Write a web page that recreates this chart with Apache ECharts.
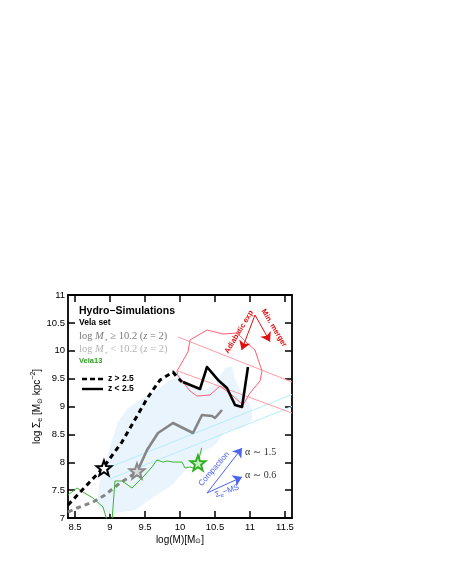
<!DOCTYPE html>
<html><head><meta charset="utf-8">
<script src="https://cdn.jsdelivr.net/npm/echarts@6/dist/echarts.min.js"></script>
<style>html,body{margin:0;padding:0;background:#fff}#c{width:452px;height:585px}</style>
</head><body><div id="c"></div>
<script>
// ---- tick values ----
const xTicks = [8.5, 9, 9.5, 10, 10.5, 11, 11.5];
const yTicks = [7, 7.5, 8, 8.5, 9, 9.5, 10, 10.5, 11];

// ---- series (log M, log Sigma_e) ----
const blackDashed = [[8.4,7.233],[8.9,7.897],[9.171,8.363],[9.543,9.170],[9.714,9.475],[9.9,9.619],[9.957,9.529],[10.029,9.44]];
const blackSolid  = [[10.043,9.44],[10.286,9.314],[10.386,9.709],[10.543,9.476],[10.671,9.332],[10.786,9.027],[10.886,8.991],[10.971,9.709]];
const greyDashed  = [[8.4,7.107],[8.529,7.179],[8.757,7.287],[8.929,7.413],[9.143,7.628],[9.386,7.825]];
const greySolid   = [[9.386,7.825],[9.529,8.22],[9.686,8.525],[9.9,8.704],[10.186,8.525],[10.314,8.847],[10.457,8.83],[10.5,8.794],[10.6,8.937]];
const greenVela13 = [[8.4,7.413],[8.529,7.538],[8.614,7.466],[8.757,7.359],[8.9,7.197],[8.957,6.96],[9.029,6.96],[9.071,7.664],[9.171,7.664],[9.314,7.538],[9.471,7.735],[9.6,7.915],[9.671,8.04],[9.757,8.004],[9.814,8.022],[9.9,8.004],[10.029,8.004],[10.071,7.897],[10.143,7.915],[10.186,7.897],[10.257,7.987],[10.31,8.26]];
const starBlack = [[8.914,7.897]];
const starGrey  = [[9.386,7.843]];
const starGreen = [[10.257,7.987]];

// ---- shaded distribution and reference lines ----
const blueRegion = [[9.429,9.117],[9.671,9.296],[9.857,9.475],[10.0,9.529],[10.143,9.386],[10.357,9.296],[10.5,9.386],[10.643,9.691],[10.743,9.726],[10.771,9.547],[10.857,9.296],[10.971,9.117],[11.029,8.937],[11.029,8.758],[10.886,8.614],[10.643,8.543],[10.5,8.309],[10.314,8.166],[10.214,8.004],[10.071,7.861],[9.886,7.592],[9.6,7.359],[9.357,7.143],[9.0,7.072],[8.829,7.197],[8.829,7.413],[8.857,7.682],[8.929,8.004],[9.029,8.399],[9.114,8.722],[9.257,8.973]];
const redPolygon = [[9.957,9.637],[10.114,9.978],[10.143,10.193],[10.386,10.372],[10.614,10.30],[10.814,10.318],[10.957,10.139],[11.071,10.013],[11.171,9.637],[11.143,9.457],[11.0,9.242],[10.9,9.027],[10.743,9.206],[10.571,9.368],[10.429,9.206],[10.243,9.188],[10.143,9.278],[9.971,9.547]];
const pinkLine1 = [[9.971,10.247],[11.6,9.439]];
const pinkLine2 = [[9.971,9.637],[11.6,8.883]];
const cyanLine1 = [[9.0,7.915],[11.6,9.215]];
const cyanLine2 = [[9.0,7.70],[11.6,9.0]];
const redArrowOrigin = [11.071,10.641];
const redArrowAdiabatic = [10.881,10.013];
const redArrowMerger = [11.286,10.163];
const blueArrowOrigin = [10.386,7.448];
const blueArrowCompaction = [10.886,8.256];
const blueArrowMS = [10.886,7.735];

function starPath(){
  const p=[];
  for(let k=0;k<10;k++){const r=k%2?0.42:1;const a=-Math.PI/2+k*Math.PI/5;p.push((r*Math.cos(a)).toFixed(3)+' '+(r*Math.sin(a)).toFixed(3));}
  return 'path://M'+p.join(' L')+' Z';
}
const STAR = starPath();
const SANS = "'Liberation Sans', Arial, Helvetica, sans-serif";
const SERIF = "'Liberation Serif', 'DejaVu Serif', serif";

const chart = echarts.init(document.getElementById('c'), null, {renderer:'canvas'});

function lineS(data, color, width, type, z){
  return {type:'line', data, symbol:'none', showSymbol:false, clip:true, z:z||5, silent:true,
    lineStyle:{color, width, type:type||'solid', cap:'butt', join:'round'}};
}
function polyS(points, style, z){
  return {type:'custom', data:[[9,9]], z, silent:true, clip:true,
    renderItem:(params, api)=>({type:'polygon', shape:{points: points.map(p=>api.coord(p))}, style})};
}
function starS(data, stroke, fill){
  return {type:'scatter', data, symbol:STAR, symbolSize:15, z:10, silent:true,
    itemStyle:{color:fill, borderColor:stroke, borderWidth:2, opacity:1}};
}
function arrowS(origin, ends, color){
  return {type:'lines', coordinateSystem:'cartesian2d', polyline:false, z:9, silent:true,
    symbol:['none','arrow'], symbolSize:[0,9],
    lineStyle:{color, width:1, opacity:1, curveness:0},
    data: ends.map(e=>({coords:[origin, e]}))};
}

const axisCommon = {
  type:'value', min:8.4, max:11.6,
  axisLine:{show:true, onZero:false, lineStyle:{color:'#000', width:1.8}},
  axisTick:{show:true, inside:true, length:7, customValues:xTicks, lineStyle:{color:'#000', width:1.5}},
  splitLine:{show:false}
};
const yCommon = {
  type:'value', min:7, max:11,
  axisLine:{show:true, onZero:false, lineStyle:{color:'#000', width:1.8}},
  axisTick:{show:true, inside:true, length:7, customValues:yTicks, lineStyle:{color:'#000', width:1.5}},
  splitLine:{show:false}
};

chart.setOption({
  animation:false,
  backgroundColor:'#fff',
  grid:{left:68, top:295, width:224, height:223, containLabel:false},
  xAxis:[
    Object.assign({}, axisCommon, {position:'bottom',
      axisLabel:{show:true, customValues:xTicks, color:'#000', fontSize:9.5, fontFamily:SANS, margin:4},
      name:'log(M)[M{s|⊙}]', nameLocation:'middle', nameGap:17,
      nameTextStyle:{color:'#000', fontSize:10, fontFamily:SANS, rich:{s:{fontSize:6.5, fontFamily:SANS, verticalAlign:'bottom', lineHeight:6, padding:[5,0,0,0]}}}}),
    Object.assign({}, axisCommon, {position:'top', axisLabel:{show:false}})
  ],
  yAxis:[
    Object.assign({}, yCommon, {position:'left',
      axisLabel:{show:true, customValues:yTicks, color:'#000', fontSize:9.5, fontFamily:SANS, margin:3}}),
    Object.assign({}, yCommon, {position:'right', axisLabel:{show:false}})
  ],
  series:[
    polyS(blueRegion, {fill:'#e9f4fd', stroke:'none'}, 1),
    lineS(cyanLine1, '#b6eef8', 1, 'solid', 2),
    lineS(cyanLine2, '#b6eef8', 1, 'solid', 2),
    lineS(pinkLine1, '#ff9aa8', 1, 'solid', 2),
    lineS(pinkLine2, '#ff9aa8', 1, 'solid', 2),
    polyS(redPolygon, {fill:'none', stroke:'#ff6075', lineWidth:1}, 3),
    lineS(greenVela13, '#3cb531', 1, 'solid', 6),
    lineS(greyDashed, '#858585', 3, [5,4], 6),
    lineS(greySolid, '#858585', 2.6, 'solid', 6),
    lineS(blackDashed, '#000', 3, [5,4], 7),
    lineS(blackSolid, '#000', 2.6, 'solid', 7),
    starS(starBlack, '#000', '#fff'),
    starS(starGrey, '#8a8a8a', '#d8d8d8'),
    starS(starGreen, '#2fae22', '#c9f0c0'),
    arrowS(redArrowOrigin, [redArrowAdiabatic, redArrowMerger], '#e01010'),
    arrowS(blueArrowOrigin, [blueArrowCompaction, blueArrowMS], '#4a62f0')
  ]
});

function px(p){ return chart.convertToPixel({gridIndex:0}, p); }
const deg = Math.PI/180;
const tAdia = px([10.843,10.336]), tMerg = px([11.343,10.408]);
const tComp = px([10.486,7.879]), tMS = px([10.671,7.484]);
const tA15 = px([10.929,8.184]), tA06 = px([10.929,7.771]);

chart.setOption({graphic:[
  {type:'text', left:79, top:306, style:{text:'Hydro−Simulations', font:'bold 10.5px '+SANS, fill:'#000'}},
  {type:'text', left:79, top:318, style:{text:'Vela set', font:'bold 8.5px '+SANS, fill:'#000'}},
  {type:'text', left:79, top:331, style:{text:'{r|log }{i|M}{s|⋆}{r| ≥ 10.2 (}{i|z}{r| = 2)}', rich:{
      r:{fontSize:10.5, fontFamily:SERIF, fill:'#7a7a7a', lineHeight:14},
      i:{fontSize:10.5, fontFamily:SERIF, fontStyle:'italic', fill:'#7a7a7a', lineHeight:14},
      s:{fontSize:7, fontFamily:SERIF, fill:'#7a7a7a', verticalAlign:'bottom', lineHeight:8}}}},
  {type:'text', left:79, top:344, style:{text:'{r|log }{i|M}{s|⋆}{r| < 10.2 (}{i|z}{r| = 2)}', rich:{
      r:{fontSize:10.5, fontFamily:SERIF, fill:'#b4b4b4', lineHeight:14},
      i:{fontSize:10.5, fontFamily:SERIF, fontStyle:'italic', fill:'#b4b4b4', lineHeight:14},
      s:{fontSize:7, fontFamily:SERIF, fill:'#b4b4b4', verticalAlign:'bottom', lineHeight:8}}}},
  {type:'text', left:79, top:357, style:{text:'Vela13', font:'bold 7.5px '+SANS, fill:'#2f9e24'}},
  {type:'line', shape:{x1:82, y1:379, x2:103, y2:379}, style:{stroke:'#000', lineWidth:2.6, lineDash:[5,3]}},
  {type:'line', shape:{x1:82, y1:389, x2:103, y2:389}, style:{stroke:'#000', lineWidth:2.4}},
  {type:'text', left:108, top:374, style:{text:'z > 2.5', font:'bold 8.5px '+SANS, fill:'#000'}},
  {type:'text', left:108, top:384, style:{text:'z < 2.5', font:'bold 8.5px '+SANS, fill:'#000'}},
  {type:'text', x:37, y:406.5, rotation:90*deg, style:{
      text:'{n|log Σ}{s|e}{n| [M}{s|⊙}{n| kpc}{p|−2}{n|]}', align:'center', verticalAlign:'middle',
      rich:{n:{fontSize:10, fontFamily:SANS, fill:'#000', lineHeight:14},
            s:{fontSize:7, fontFamily:SANS, fill:'#000', verticalAlign:'bottom', lineHeight:7},
            p:{fontSize:7, fontFamily:SANS, fill:'#000', verticalAlign:'top', lineHeight:7}}}},
  {type:'text', x:tAdia[0], y:tAdia[1], rotation:59*deg, style:{text:'Adiabatic exp', align:'center', verticalAlign:'middle', font:'bold 7.5px '+SANS, fill:'#e01010'}},
  {type:'text', x:tMerg[0], y:tMerg[1], rotation:-59*deg, style:{text:'Min. merger', align:'center', verticalAlign:'middle', font:'bold 7.5px '+SANS, fill:'#e01010'}},
  {type:'text', x:tComp[0], y:tComp[1], rotation:49*deg, style:{text:'Compaction', align:'center', verticalAlign:'middle', font:'8px '+SANS, fill:'#4a62f0'}},
  {type:'text', x:tMS[0], y:tMS[1], rotation:20*deg, style:{text:'{n|Σ}{s|e}{n|−MS}', align:'center', verticalAlign:'middle',
      rich:{n:{fontSize:8, fontFamily:SANS, fill:'#4a62f0', lineHeight:11}, s:{fontSize:6, fontFamily:SANS, fill:'#4a62f0', verticalAlign:'bottom', lineHeight:6}}}},
  {type:'text', x:tA15[0], y:tA15[1], style:{text:'α ∼ 1.5', align:'left', verticalAlign:'middle', font:'10px '+SERIF, fill:'#333'}},
  {type:'text', x:tA06[0], y:tA06[1], style:{text:'α ∼ 0.6', align:'left', verticalAlign:'middle', font:'10px '+SERIF, fill:'#333'}}
]});
</script></body></html>
